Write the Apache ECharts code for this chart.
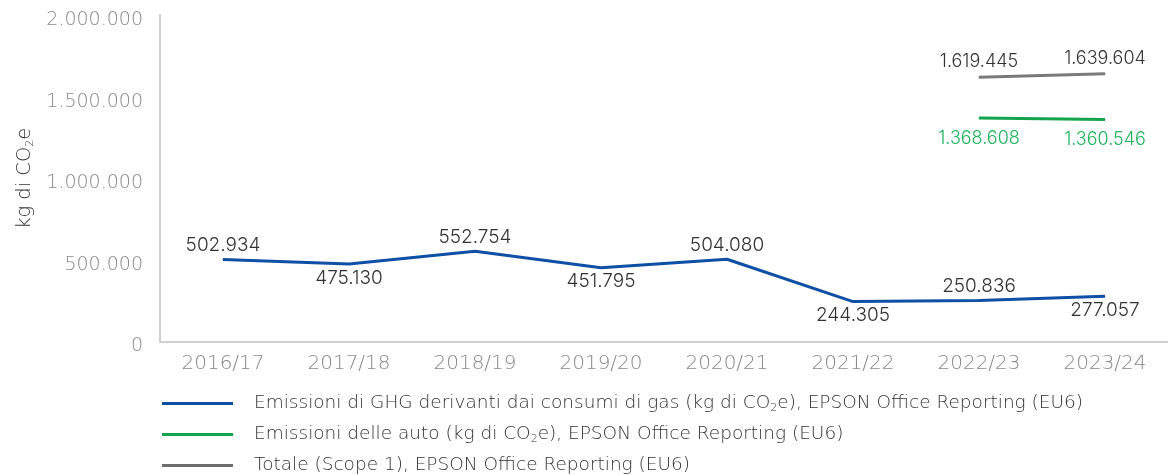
<!DOCTYPE html>
<html>
<head>
<meta charset="utf-8">
<script src="https://cdn.jsdelivr.net/npm/echarts@6/dist/echarts.min.js"></script>
<style>
html,body{margin:0;padding:0;background:#fff}
#main{width:1168px;height:475px}
</style>
</head>
<body>
<div id="main"></div>
<script>
// anni
var categories = ['2016/17', '2017/18', '2018/19', '2019/20', '2020/21', '2021/22', '2022/23', '2023/24'];
// kg di CO2e
var gasValues = [502934, 475130, 552754, 451795, 504080, 244305, 250836, 277057];
var autoValues = [null, null, null, null, null, null, 1368608, 1360546];
var totalValues = [null, null, null, null, null, null, 1619445, 1639604];
// etichette sopra (top) o sotto (bottom)
var gasLabelPos = ['top', 'bottom', 'top', 'bottom', 'top', 'bottom', 'top', 'bottom'];
var yTicks = [0, 500000, 1000000, 1500000, 2000000];

var FONT = 'Inter, "Liberation Sans", sans-serif';
var WIDE = '"DejaVu Sans", sans-serif';

function fmt(v) {
    return String(v).replace(/\B(?=(\d{3})+(?!\d))/g, '.');
}

var legendNames = {
    gas: 'Emissioni di GHG derivanti dai consumi di gas (kg di CO2e), EPSON Office Reporting (EU6)',
    auto: 'Emissioni delle auto (kg di CO2e), EPSON Office Reporting (EU6)',
    tot: 'Totale (Scope 1), EPSON Office Reporting (EU6)'
};

var myChart = echarts.init(document.getElementById('main'));
myChart.setOption({
    animation: false,
    textStyle: {fontFamily: FONT},
    grid: {left: 160, top: 15, width: 1016, height: 326.5, containLabel: false},
    legend: {
        orient: 'vertical',
        left: 162,
        top: 394,
        padding: 0,
        itemGap: 11,
        itemWidth: 71,
        itemHeight: 3,
        icon: 'rect',
        data: [legendNames.gas, legendNames.auto, legendNames.tot],
        formatter: function (name) {
            return name.replace('CO2e', 'CO{sub|2}e');
        },
        textStyle: {
            fontFamily: WIDE,
            fontWeight: 200,
            fontSize: 18.5,
            color: '#333',
            padding: [0, 0, 0, 16],
            rich: {
                sub: {fontSize: 11, padding: [10, 0, 0, 0], color: '#333', fontFamily: WIDE, fontWeight: 200}
            }
        }
    },
    xAxis: {
        type: 'category',
        data: categories,
        boundaryGap: true,
        axisLine: {lineStyle: {color: '#d0d0d0', width: 2}},
        axisTick: {show: false},
        axisLabel: {color: '#888', fontSize: 20, fontWeight: 200, margin: 12, fontFamily: WIDE}
    },
    yAxis: {
        type: 'value',
        min: 0,
        max: 2000000,
        interval: 500000,
        name: 'kg di CO{sub|2}e',
        nameLocation: 'middle',
        nameRotate: 90,
        nameGap: 117,
        nameTextStyle: {
            fontSize: 19.5,
            color: '#333',
            fontFamily: WIDE,
            fontWeight: 200,
            rich: {sub: {fontSize: 11, padding: [10, 0, 0, 0], color: '#333', fontFamily: WIDE, fontWeight: 200}}
        },
        splitLine: {show: false},
        axisLine: {show: true, lineStyle: {color: '#d0d0d0', width: 2}},
        axisTick: {show: false},
        axisLabel: {
            color: '#888', fontSize: 19, fontWeight: 200, margin: 17, fontFamily: WIDE,
            verticalAlign: 'top',
            lineHeight: 10,
            formatter: function (v) { return yTicks.indexOf(v) >= 0 ? fmt(v) : ''; }
        }
    },
    series: [
        {
            name: legendNames.gas,
            type: 'line',
            data: gasValues.map(function (v, i) {
                return {value: v, label: {position: gasLabelPos[i]}};
            }),
            symbol: 'circle',
            symbolSize: 1,
            lineStyle: {color: '#0f4fa5', width: 3},
            itemStyle: {color: '#0f4fa5'},
            label: {show: true, distance: 4, color: '#333', fontSize: 19, fontWeight: 300, fontFamily: FONT,
                formatter: function (p) { return fmt(p.value); }}
        },
        {
            name: legendNames.auto,
            type: 'line',
            data: autoValues,
            symbol: 'circle',
            symbolSize: 1,
            lineStyle: {color: '#14a44d', width: 3},
            itemStyle: {color: '#14a44d'},
            label: {show: true, position: 'bottom', distance: 11, color: '#1db35a', fontSize: 18, fontWeight: 300, fontFamily: FONT,
                formatter: function (p) { return fmt(p.value); }}
        },
        {
            name: legendNames.tot,
            type: 'line',
            data: totalValues,
            symbol: 'circle',
            symbolSize: 1,
            lineStyle: {color: '#7a7a7a', width: 3},
            itemStyle: {color: '#6e6e6e'},
            label: {show: true, position: 'top', distance: 6, color: '#333', fontSize: 18, fontWeight: 300, fontFamily: FONT,
                formatter: function (p) { return fmt(p.value); }}
        }
    ]
});
</script>
</body>
</html>
